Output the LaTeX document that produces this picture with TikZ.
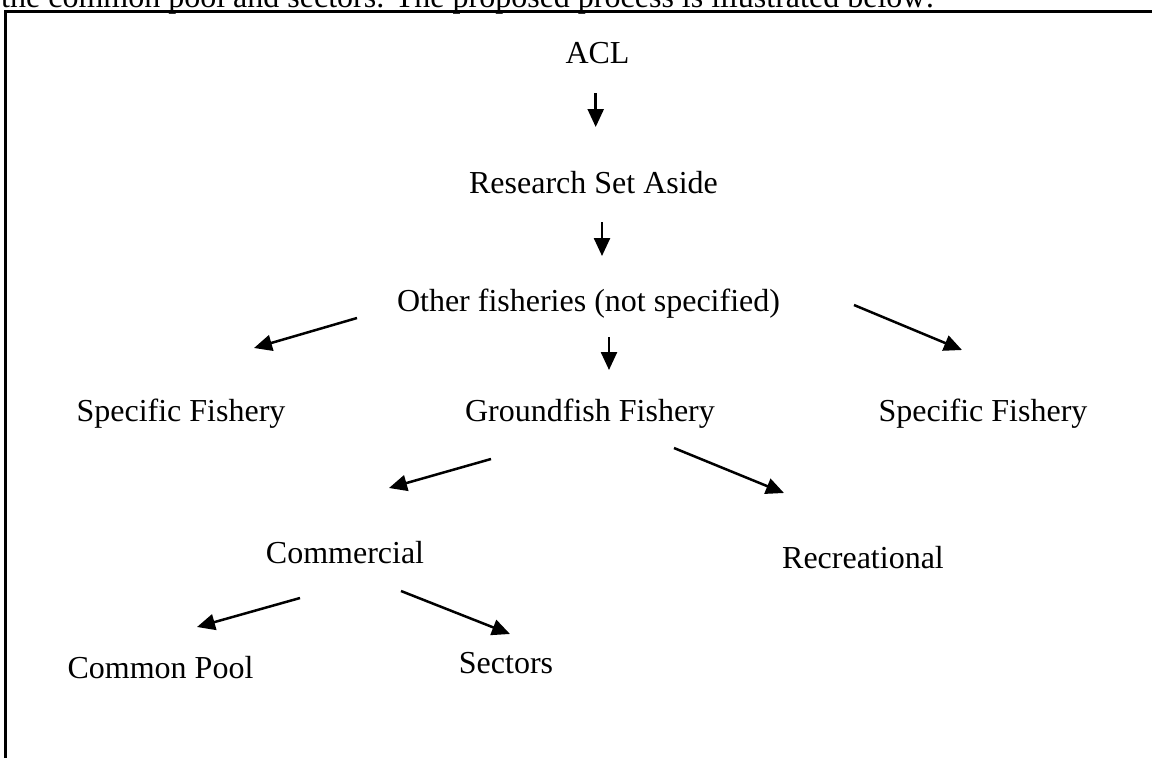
\documentclass[tikz,border=0pt]{standalone}
\usepackage{fontspec}
\setmainfont{Liberation Serif}
\usetikzlibrary{arrows.meta}
\begin{document}
\begin{tikzpicture}[x=1pt,y=-1pt,
  lbl/.style={anchor=base, inner sep=0pt, font=\fontsize{32}{38}\selectfont},
  conn/.style={line width=2.5pt, -{Triangle[length=18pt,width=16pt]}},
  frame/.style={line width=2.4pt}]
\useasboundingbox (0,0) rectangle (1152,758);
\begin{scope}
\clip (0,0) rectangle (1152,758);
\node[lbl, anchor=base west] (intro) at (1,7.5) {the common pool and sectors. The proposed process is illustrated below:};
\draw[frame] (5.5,800) -- (5.5,11.5) -- (1200,11.5);
\end{scope}

% nodes
\node[lbl] (acl) at (597.5,63) {ACL};
\node[lbl] (rsa) at (593.5,193) {Research Set Aside};
\node[lbl] (other) at (588.5,311) {Other fisheries (not specified)};
\node[lbl] (spec1) at (181,421) {Specific Fishery};
\node[lbl] (ground) at (590,421) {Groundfish Fishery};
\node[lbl] (spec2) at (983,421) {Specific Fishery};
\node[lbl] (comm) at (345,563) {Commercial};
\node[lbl] (recr) at (863,568) {Recreational};
\node[lbl] (pool) at (160.5,678) {Common Pool};
\node[lbl] (sect) at (506,673) {Sectors};

% connector ends
\coordinate (a1s) at (595.7,93);  \coordinate (a1e) at (595.7,127);
\coordinate (a2s) at (602,222);   \coordinate (a2e) at (602,256);
\coordinate (a3s) at (357,318);   \coordinate (a3e) at (254,348);
\coordinate (a4s) at (609,337);   \coordinate (a4e) at (609,370);
\coordinate (a5s) at (854,305);   \coordinate (a5e) at (962,350);
\coordinate (a6s) at (491,459);   \coordinate (a6e) at (389,488);
\coordinate (a7s) at (674,448);   \coordinate (a7e) at (784,493);
\coordinate (a8s) at (300,598);   \coordinate (a8e) at (197,627);
\coordinate (a9s) at (401,591);   \coordinate (a9e) at (510,634);

\draw[conn] (a1s) -- (a1e);
\draw[conn] (a2s) -- (a2e);
\draw[conn] (a3s) -- (a3e);
\draw[conn] (a4s) -- (a4e);
\draw[conn] (a5s) -- (a5e);
\draw[conn] (a6s) -- (a6e);
\draw[conn] (a7s) -- (a7e);
\draw[conn] (a8s) -- (a8e);
\draw[conn] (a9s) -- (a9e);
\end{tikzpicture}
\end{document}
